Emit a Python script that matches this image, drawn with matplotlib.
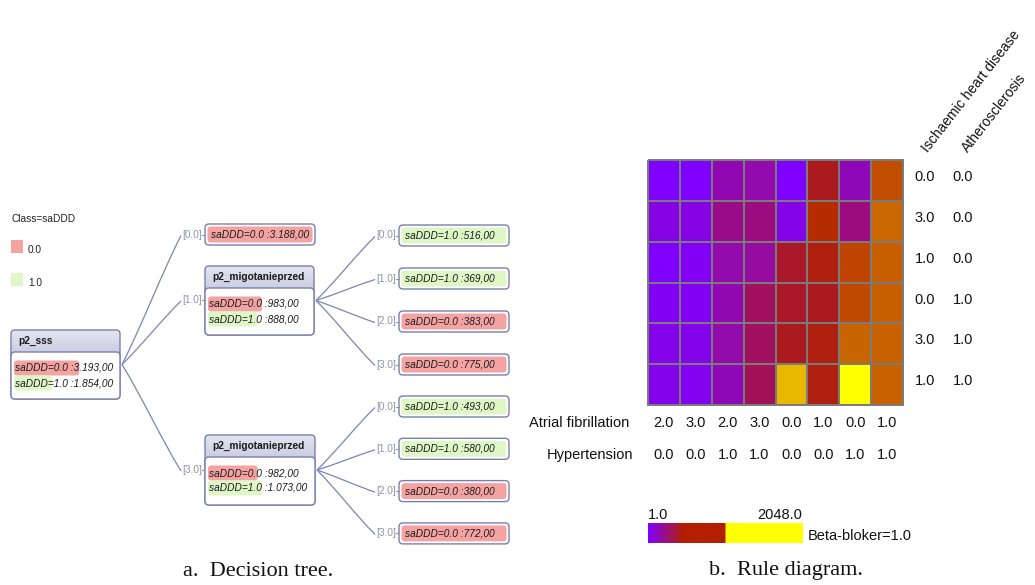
import numpy as np
import matplotlib
matplotlib.use('Agg')
import matplotlib.pyplot as plt
from matplotlib.patches import FancyBboxPatch, Rectangle, PathPatch
from matplotlib.path import Path
from matplotlib.colors import LinearSegmentedColormap, LogNorm

# dane drzewa decyzyjnego
class_names = ['0.0', '1.0']
class_colors = ['#f4a3a3', '#dff7c6']
root_name = 'p2_sss'
root_counts = [3193, 1854]
root_branches = ['0.0', '1.0', '3.0']
leaf_a_class = 0
leaf_a_count = 3188
split_name = 'p2_migotanieprzed'
node1_counts = [983, 888]
node2_counts = [982, 1073]
sub_branches = ['0.0', '1.0', '2.0', '3.0']
node1_leaf_class = [1, 1, 0, 0]
node1_leaf_count = [516, 369, 383, 775]
node2_leaf_class = [1, 1, 0, 0]
node2_leaf_count = [493, 580, 380, 772]

# dane diagramu reguł
atrial_fib = [2.0, 3.0, 2.0, 3.0, 0.0, 1.0, 0.0, 1.0]
hypertension = [0.0, 0.0, 1.0, 1.0, 0.0, 0.0, 1.0, 1.0]
ischaemic = [0.0, 3.0, 1.0, 0.0, 3.0, 1.0]
atherosclerosis = [0.0, 0.0, 0.0, 1.0, 1.0, 1.0]
rule_counts = [
    [1.0, 1.0, 2.9, 3.1, 1.0, 12.3, 2.7, 45],
    [1.6, 1.6, 4.3, 4.6, 1.5, 24.6, 4.6, 77],
    [1.0, 1.2, 3.1, 3.4, 10.6, 16.7, 38.9, 61],
    [1.2, 1.2, 2.9, 6.2, 10.6, 12.3, 41.8, 61],
    [1.4, 1.4, 3.1, 6.2, 12.3, 16.7, 71, 66],
    [1.4, 1.3, 2.7, 6.7, 651, 16.7, 2048, 66],
]
cb_min, cb_max = 1.0, 2048.0
cb_label = 'Beta-bloker=1.0'

W, H = 1035, 585
BORDER = '#7b7fab'
EDGE = '#7f83b3'
GRAY = '#9193a6'
SANS = ['Liberation Sans', 'DejaVu Sans']
FS = 7.3

fig = plt.figure(figsize=(W / 100, H / 100), dpi=100)
ax = fig.add_axes([0, 0, 1, 1])
head_cmap = LinearSegmentedColormap.from_list('head', ['#e3e6f1', '#c2c7dc'])


def fmt(v):
    s = f"{v:,.2f}"
    return s.replace(',', 'X').replace('.', ',').replace('X', '.')


def rbox(x, y, w, h, fc, ec, r=4, lw=1.0, z=2):
    p = FancyBboxPatch((x, y), w, h, boxstyle=f"round,pad=0,rounding_size={r}",
                       fc=fc, ec=ec, lw=lw, zorder=z)
    ax.add_patch(p)
    return p


def split_node(x, y, w, h, name, counts):
    hh = 22
    clip = rbox(x, y, w, hh + 6, 'none', 'none', z=1)
    grad = np.linspace(0, 1, 40).reshape(-1, 1)
    im = ax.imshow(grad, extent=(x, x + w, y + hh + 6, y), cmap=head_cmap,
                   aspect='auto', zorder=1, interpolation='bilinear')
    im.set_clip_path(clip)
    rbox(x, y, w, h, 'none', BORDER, z=2)
    rbox(x, y + hh, w, h - hh, 'white', BORDER, z=2)
    ax.text(x + 7, y + hh / 2, name, ha='left', va='center', fontsize=FS,
            fontweight='bold', family=SANS, color='#1a1a1a', zorder=5)
    total = sum(counts)
    for i, c in enumerate(counts):
        ly = y + hh + 16 + 15 * i
        frac = c / total
        hl = FancyBboxPatch((x + 3, ly - 7.5), frac * (w - 6), 15,
                            boxstyle="round,pad=0,rounding_size=3",
                            fc=class_colors[i], ec='none', zorder=3)
        ax.add_patch(hl)
        ax.text(x + 4, ly, f"saDDD={class_names[i]} :{fmt(c)}", ha='left',
                va='center', fontsize=FS, style='italic', family=SANS,
                color='#1a1a1a', zorder=5)
    return (x + w + 2, y + h / 2)


def leaf(x, y, cls, count, w=110, h=21):
    rbox(x, y, w, h, 'white', BORDER, z=2)
    rbox(x + 2.5, y + 2.5, w - 5, h - 5, class_colors[cls], 'none', r=3, z=3)
    ax.text(x + 6, y + h / 2, f"saDDD={class_names[cls]} :{fmt(count)}",
            ha='left', va='center', fontsize=FS, style='italic', family=SANS,
            color='#1a1a1a', zorder=5)


def branch(p0, bx, by, lab):
    ax.text(bx - 3, by, f"[{lab}]", ha='right', va='center', fontsize=FS,
            family=SANS, color=GRAY, zorder=5)
    ax.plot([bx - 3, bx], [by, by], color=GRAY, lw=0.8, zorder=4)
    x0, y0 = p0
    x1, y1 = bx - 24, by + 1
    dx, dy = x1 - x0, y1 - y0
    verts = [(x0, y0), (x0 + dx / 3, y0 + dy * 0.3),
             (x1 - dx / 3, y1 - dy * 0.3), (x1, y1)]
    path = Path(verts, [Path.MOVETO, Path.CURVE4, Path.CURVE4, Path.CURVE4])
    ax.add_patch(PathPatch(path, fc='none', ec=EDGE, lw=0.9, zorder=1))


# legenda klas
ax.text(11, 219, 'Class=saDDD', ha='left', va='center', fontsize=FS,
        family=SANS, color='#222222')
for i, (lab, col) in enumerate(zip(class_names, class_colors)):
    sy = 240 + 33 * i
    ax.add_patch(Rectangle((11, sy), 12, 13, fc=col, ec='none'))
    ax.text(28, sy + 10, lab, ha='left', va='center', fontsize=FS,
            family=SANS, color='#222222')

# drzewo
root_pt = split_node(11, 330, 109, 69, root_name, root_counts)
leaf(205, 224, leaf_a_class, leaf_a_count)
branch(root_pt, 205, 234.5, root_branches[0])
n1_pt = split_node(205, 266, 109, 69, split_name, node1_counts)
branch(root_pt, 205, 300, root_branches[1])
n2_pt = split_node(205, 435, 110, 70, split_name, node2_counts)
branch(root_pt, 205, 470, root_branches[2])

for i, (c, n) in enumerate(zip(node1_leaf_class, node1_leaf_count)):
    ly = 225 + 43 * i
    leaf(399, ly, c, n)
    branch(n1_pt, 399, ly + 10.5, sub_branches[i])
for i, (c, n) in enumerate(zip(node2_leaf_class, node2_leaf_count)):
    ly = 396 + 42.3 * i
    leaf(399, ly, c, n)
    branch(n2_pt, 399, ly + 10.5, sub_branches[i])

ax.set_xlim(0, W)
ax.set_ylim(H, 0)
ax.axis('off')

# podpisy
ax.text(258, 571, 'a.  Decision tree.', ha='center', va='center', fontsize=16,
        family=['Liberation Serif', 'DejaVu Serif'], color='#111111')
ax.text(786, 571, 'b.  Rule diagram.', ha='center', va='center', fontsize=16,
        family=['Liberation Serif', 'DejaVu Serif'], color='#111111')

# diagram reguł
rule_cmap = LinearSegmentedColormap.from_list('rules', [
    (0.0, '#8000ff'), (0.1, '#8a06d0'), (0.2, '#9c0c80'), (0.3, '#a8162c'),
    (0.4, '#b22400'), (0.55, '#c86200'), (0.85, '#e8b800'), (1.0, '#ffff00')])
hax = fig.add_axes([648 / W, 1 - 405 / H, 255 / W, 245 / H])
mesh = hax.pcolormesh(np.array(rule_counts), cmap=rule_cmap,
                      norm=LogNorm(cb_min, cb_max), edgecolors='#7b7b7b',
                      linewidth=1.4)
mesh.set_clip_on(False)
hax.set_xlim(0, 8)
hax.set_ylim(6, 0)
hax.axis('off')

tk = dict(fontsize=10.5, family=SANS, color='#111111')
for j in range(8):
    hax.text(j + 0.5, 6.45, f"{atrial_fib[j]:.1f}", ha='center', va='center', **tk)
    hax.text(j + 0.5, 7.23, f"{hypertension[j]:.1f}", ha='center', va='center', **tk)
hax.text(-0.6, 6.45, 'Atrial fibrillation', ha='right', va='center', **tk)
hax.text(-0.47, 7.23, 'Hypertension', ha='right', va='center', **tk)
for i in range(6):
    hax.text(8.69, i + 0.42, f"{ischaemic[i]:.1f}", ha='center', va='center', **tk)
    hax.text(9.87, i + 0.42, f"{atherosclerosis[i]:.1f}", ha='center', va='center', **tk)
rot = dict(tk, fontsize=10)
hax.text(8.85, -0.12, 'Ischaemic heart disease', ha='left', va='bottom',
         rotation=52, rotation_mode='anchor', **rot)
hax.text(10.1, -0.12, 'Atherosclerosis', ha='left', va='bottom',
         rotation=52, rotation_mode='anchor', **rot)

# legenda kolorów
leg_cmap = LinearSegmentedColormap.from_list('leg', [
    (0.0, '#8000ff'), (0.23, '#b22000'), (0.5, '#b22000'),
    (0.501, '#ffff00'), (1.0, '#ffff00')])
cax = fig.add_axes([648 / W, 1 - 543 / H, 154 / W, 20 / H])
cax.imshow(np.linspace(0, 1, 512).reshape(1, -1), cmap=leg_cmap, aspect='auto')
cax.axis('off')
cax.text(0, 1.05, f"{cb_min:.1f}", transform=cax.transAxes, ha='left',
         va='bottom', **tk)
cax.text(1, 1.05, f"{cb_max:.1f}", transform=cax.transAxes, ha='right',
         va='bottom', **tk)
cax.text(1.04, 0.35, cb_label, transform=cax.transAxes, ha='left',
         va='center', **tk)

fig.savefig('out.png', dpi=100)
